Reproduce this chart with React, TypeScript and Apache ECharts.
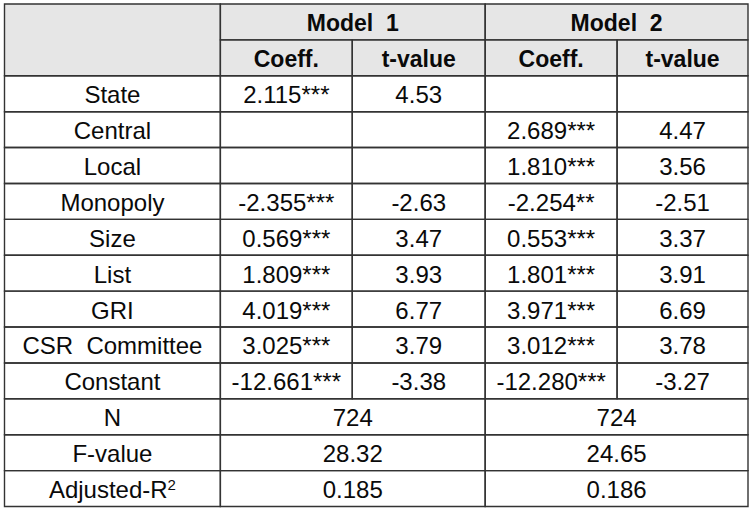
import React, { useEffect, useRef } from "react";
import * as echarts from "echarts";

// ---- data ----
const modelNames = ["Model  1", "Model  2"];
const subHeaders = ["Coeff.", "t-value"];
const rowLabels = ["State", "Central", "Local", "Monopoly", "Size", "List", "GRI", "CSR  Committee", "Constant"];
const m1Coeff: (number | null)[] = [2.115, null, null, -2.355, 0.569, 1.809, 4.019, 3.025, -12.661];
const m1Stars = ["***", "", "", "***", "***", "***", "***", "***", "***"];
const m1T: (number | null)[] = [4.53, null, null, -2.63, 3.47, 3.93, 6.77, 3.79, -3.38];
const m2Coeff: (number | null)[] = [null, 2.689, 1.81, -2.254, 0.553, 1.801, 3.971, 3.012, -12.28];
const m2Stars = ["", "***", "***", "**", "***", "***", "***", "***", "***"];
const m2T: (number | null)[] = [null, 4.47, 3.56, -2.51, 3.37, 3.91, 6.69, 3.78, -3.27];
const statLabels = ["N", "F-value", "Adjusted-R{sup|2}"];
const m1Stats = ["724", "28.32", "0.185"];
const m2Stats = ["724", "24.65", "0.186"];

// column edges (layout, in table units)
const colEdges = [0, 216, 348, 481, 613, 744];

type Cell = { c0: number; c1: number; r0: number; r1: number; text: string; header: boolean };

function buildCells(): Cell[] {
  const cells: Cell[] = [];
  cells.push({ c0: 0, c1: 1, r0: 0, r1: 2, text: "", header: true });
  modelNames.forEach((m, i) => {
    cells.push({ c0: 1 + i * 2, c1: 3 + i * 2, r0: 0, r1: 1, text: m, header: true });
    subHeaders.forEach((s, j) => {
      cells.push({ c0: 1 + i * 2 + j, c1: 2 + i * 2 + j, r0: 1, r1: 2, text: s, header: true });
    });
  });
  const fmtC = (v: number | null, s: string) => (v === null ? "" : v.toFixed(3) + s);
  const fmtT = (v: number | null) => (v === null ? "" : v.toFixed(2));
  rowLabels.forEach((lab, i) => {
    const r = 2 + i;
    cells.push({ c0: 0, c1: 1, r0: r, r1: r + 1, text: lab, header: false });
    cells.push({ c0: 1, c1: 2, r0: r, r1: r + 1, text: fmtC(m1Coeff[i], m1Stars[i]), header: false });
    cells.push({ c0: 2, c1: 3, r0: r, r1: r + 1, text: fmtT(m1T[i]), header: false });
    cells.push({ c0: 3, c1: 4, r0: r, r1: r + 1, text: fmtC(m2Coeff[i], m2Stars[i]), header: false });
    cells.push({ c0: 4, c1: 5, r0: r, r1: r + 1, text: fmtT(m2T[i]), header: false });
  });
  statLabels.forEach((lab, i) => {
    const r = 2 + rowLabels.length + i;
    cells.push({ c0: 0, c1: 1, r0: r, r1: r + 1, text: lab, header: false });
    cells.push({ c0: 1, c1: 3, r0: r, r1: r + 1, text: m1Stats[i], header: false });
    cells.push({ c0: 3, c1: 5, r0: r, r1: r + 1, text: m2Stats[i], header: false });
  });
  return cells;
}

const cells = buildCells();
const totalRows = 2 + rowLabels.length + statLabels.length;
const FONT = "'Liberation Sans', Arial, sans-serif";

export default function App() {
  const ref = useRef<HTMLDivElement>(null);
  useEffect(() => {
    if (!ref.current) return;
    const chart = echarts.init(ref.current, null, { renderer: "svg" });
    chart.setOption({
      animation: false,
      backgroundColor: "#ffffff",
      grid: { left: 4.5, top: 4, width: 743.5, height: 502.5 },
      xAxis: { type: "value", min: 0, max: colEdges[colEdges.length - 1], show: false },
      yAxis: { type: "value", min: 0, max: totalRows, inverse: true, show: false },
      series: [
        {
          type: "custom",
          coordinateSystem: "cartesian2d",
          data: cells.map((c) => [colEdges[c.c0], c.r0, colEdges[c.c1], c.r1]),
          renderItem: (params: any, api: any) => {
            const c = cells[params.dataIndex];
            const p0 = api.coord([api.value(0), api.value(1)]);
            const p1 = api.coord([api.value(2), api.value(3)]);
            const w = p1[0] - p0[0];
            const h = p1[1] - p0[1];
            return {
              type: "group",
              children: [
                {
                  type: "rect",
                  z2: 0,
                  shape: { x: p0[0], y: p0[1], width: w, height: h },
                  style: { fill: c.header ? "#e6e6e6" : "#ffffff", stroke: null },
                },
                {
                  type: "rect",
                  z2: 10,
                  shape: { x: p0[0], y: p0[1], width: w, height: h },
                  style: { fill: null, stroke: "#333333", lineWidth: 1.4 },
                },
                {
                  type: "text",
                  z2: 20,
                  x: p0[0] + w / 2,
                  y: p0[1] + h / 2 + 1,
                  style: {
                    text: c.text,
                    fill: "#0a0a0a",
                    fontFamily: FONT,
                    fontSize: c.header ? 23 : 24,
                    fontWeight: c.header ? "bold" : "normal",
                    align: "center",
                    verticalAlign: "middle",
                    lineHeight: 26,
                    rich: {
                      sup: {
                        fontSize: 15,
                        fontFamily: FONT,
                        fill: "#0a0a0a",
                        verticalAlign: "top",
                        lineHeight: 15,
                      },
                    },
                  },
                },
              ],
            };
          },
        },
      ],
    });
    return () => chart.dispose();
  }, []);
  return (
    <div
      ref={ref}
      style={{ position: "absolute", left: 0, top: 0, width: 754, height: 514 }}
    />
  );
}
